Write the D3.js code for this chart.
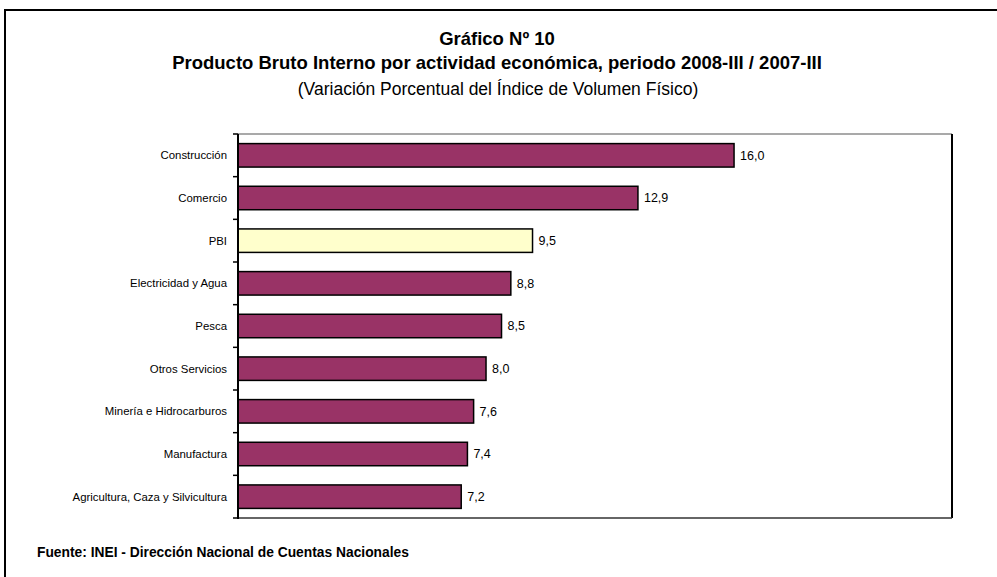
<!DOCTYPE html>
<html><head><meta charset="utf-8">
<script src="https://cdn.jsdelivr.net/npm/d3@7"></script>
<style>body{margin:0;background:#fff}svg{display:block;font-family:"Liberation Sans",Arial,sans-serif}</style>
</head><body>
<svg id="c" width="997" height="577"></svg>
<script>
const categories = ["Construcción","Comercio","PBI","Electricidad y Agua","Pesca","Otros Servicios","Minería e Hidrocarburos","Manufactura","Agricultura, Caza y Silvicultura"];
const values = [16.0,12.9,9.5,8.8,8.5,8.0,7.6,7.4,7.2];
const highlight = ["PBI"];
const titleLines = ["Gráfico Nº 10","Producto Bruto Interno por actividad económica, periodo 2008-III / 2007-III","(Variación Porcentual del Índice de Volumen Físico)"];
const source = "Fuente: INEI - Dirección Nacional de Cuentas Nacionales";

const svg = d3.select("#c");
// outer frame
svg.append("path").attr("d","M5,577 V10 H997").attr("fill","none").attr("stroke","#000").attr("stroke-width",2);

const L=238, R=952, T=134, B=518;
const x = d3.scaleLinear().domain([0,23.03]).range([L,R]);
const y = d3.scaleBand().domain(categories).range([T,B]).paddingInner(0.45).paddingOuter(0.225);

// plot area border
svg.append("line").attr("x1",L).attr("x2",R).attr("y1",T).attr("y2",T).attr("stroke","#555").attr("stroke-width",1.2);
svg.append("line").attr("x1",R).attr("x2",R).attr("y1",T).attr("y2",B).attr("stroke","#000").attr("stroke-width",2);
svg.append("line").attr("x1",L).attr("x2",R).attr("y1",B).attr("y2",B).attr("stroke","#333").attr("stroke-width",1.5);

// bars
svg.selectAll("rect.bar").data(categories).join("rect").attr("class","bar")
  .attr("x",x(0)).attr("y",d=>y(d)).attr("height",y.bandwidth())
  .attr("width",(d,i)=>x(values[i])-x(0))
  .attr("fill",d=>highlight.includes(d)?"#FFFFCC":"#993366")
  .attr("stroke","#000").attr("stroke-width",1.5);

// value labels
const fmt = v=>d3.format(".1f")(v).replace(".",",");
svg.selectAll("text.val").data(categories).join("text").attr("class","val")
  .attr("x",(d,i)=>x(values[i])+6).attr("y",d=>y(d)+y.bandwidth()/2)
  .attr("dy","0.35em").attr("font-size",12.5).text((d,i)=>fmt(values[i]));

// y axis with ticks at band boundaries
svg.append("line").attr("x1",L).attr("x2",L).attr("y1",T).attr("y2",B+1).attr("stroke","#000").attr("stroke-width",2);
const tickYs = d3.range(categories.length+1).map(i=>T+i*(B-T)/categories.length);
svg.selectAll("line.tk").data(tickYs).join("line").attr("class","tk")
  .attr("x1",L-5).attr("x2",L).attr("y1",d=>d).attr("y2",d=>d).attr("stroke","#000").attr("stroke-width",1.5);
svg.selectAll("text.cat").data(categories).join("text").attr("class","cat")
  .attr("x",L-11).attr("y",d=>y(d)+y.bandwidth()/2).attr("dy","0.35em")
  .attr("text-anchor","end").attr("font-size",11.4).text(d=>d);

// titles
svg.append("text").attr("x",497).attr("y",45).attr("text-anchor","middle").attr("font-size",18.5).attr("font-weight","bold").text(titleLines[0]);
svg.append("text").attr("x",497).attr("y",69).attr("text-anchor","middle").attr("font-size",18.5).attr("font-weight","bold").text(titleLines[1]);
svg.append("text").attr("x",498).attr("y",95).attr("text-anchor","middle").attr("font-size",17.5).text(titleLines[2]);

svg.append("text").attr("x",37).attr("y",557).attr("font-size",13.8).attr("font-weight","bold").text(source);
</script>
</body></html>
